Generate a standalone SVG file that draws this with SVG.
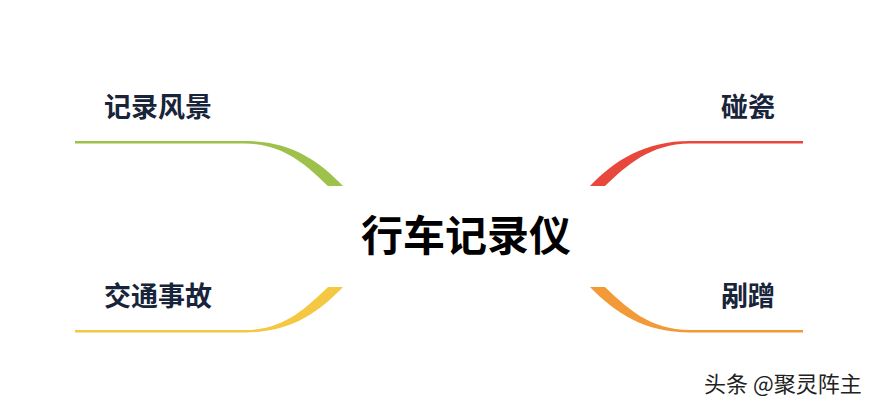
<svg xmlns="http://www.w3.org/2000/svg" width="879" height="408" viewBox="0 0 879 408">
<style>
.lbl{font-family:"Noto Sans CJK SC","Noto Sans",sans-serif;font-weight:bold;font-size:27px;fill:#17243a}
.title{font-family:"Noto Sans CJK SC","Noto Sans",sans-serif;font-weight:bold;font-size:42px;fill:#000}
.wm{font-family:"Noto Sans CJK SC","Noto Sans",sans-serif;font-size:22px;fill:#222}
</style>
<rect width="879" height="408" fill="#fff"/>
<g id="connectors">
<path d="M75,141 L245,141 C290,141 318,160 343,186 L328,186 C306,165 284,144 245,143.5 L75,143.5 Z" fill="#9dc14b"/>
<path d="M803,141 L690,141 C645,141 615,160 590,186 L605,186 C627,165 650,144 690,143.5 L803,143.5 Z" fill="#e8483b"/>
<path d="M75,332.5 L245,332.5 C290,332.5 318,313 343,287 L328,287 C306,308 284,330 245,330 L75,330 Z" fill="#f5c843"/>
<path d="M803,332.5 L690,332.5 C645,332.5 615,313 590,287 L605,287 C627,308 650,330 690,330 L803,330 Z" fill="#f39a38"/>
</g>
<g id="center"><text class="title" x="466" y="251" text-anchor="middle">行车记录仪</text></g>
<g id="n1"><text class="lbl" x="104" y="117">记录风景</text></g>
<g id="n2"><text class="lbl" x="775" y="117" text-anchor="end">碰瓷</text></g>
<g id="n3"><text class="lbl" x="104" y="306">交通事故</text></g>
<g id="n4"><text class="lbl" x="775" y="306" text-anchor="end">剐蹭</text></g>
<text class="wm" x="704" y="392">头条 @聚灵阵主</text>
</svg>
